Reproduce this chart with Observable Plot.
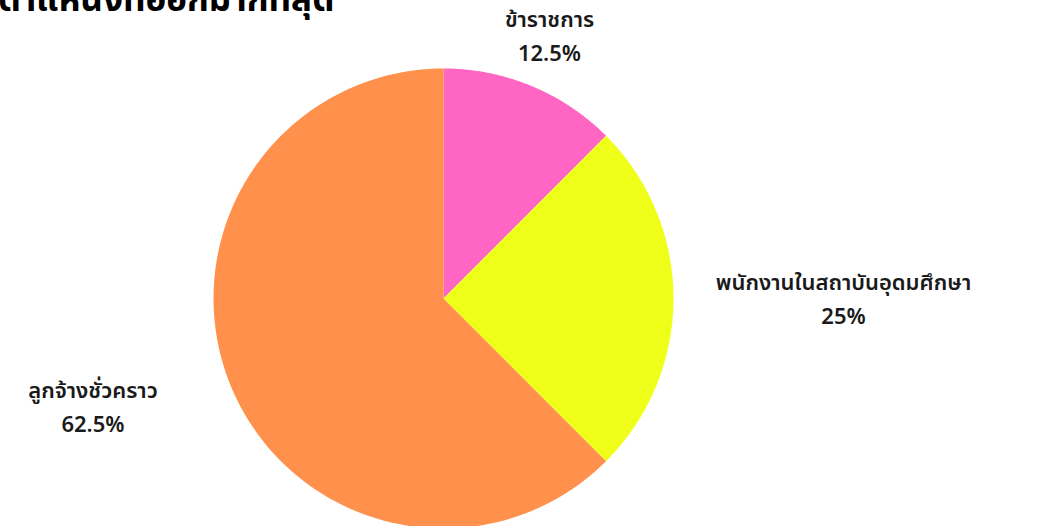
<!DOCTYPE html>
<html>
<head>
<meta charset="utf-8">
<script src="https://cdn.jsdelivr.net/npm/d3@7"></script>
<script src="https://cdn.jsdelivr.net/npm/@observablehq/plot@0.6"></script>
<style>
  html, body { margin: 0; padding: 0; background: #fff; overflow: hidden; }
  #wrap { position: relative; width: 1051px; height: 526px; overflow: hidden; }
  #title { position: absolute; left: -2px; top: -26px; font: 700 35px "Noto Sans Thai", "Noto Sans", sans-serif; color: #000; white-space: nowrap; margin: 0; }
  #chart { position: absolute; left: 0; top: 0; }
</style>
</head>
<body>
<div id="wrap">
  <div id="chart"></div>
  <div id="title">ตำแหน่งที่ออกมากที่สุด</div>
</div>
<script>
const categories = ["ข้าราชการ", "พนักงานในสถาบันอุดมศึกษา", "ลูกจ้างชั่วคราว"];
const values = [12.5, 25, 62.5];
const valueLabels = ["12.5%", "25%", "62.5%"];
const colors = ["#ff66c4", "#f0ff1a", "#ff914d"];

const W = 1051, H = 526;
const cx = 443, cy = 298, R = 230; // pixel layout of the pie

const arcs = d3.pie().sort(null).value(d => d)(values);
const points = [];
arcs.forEach((a, i) => {
  const cat = categories[i];
  points.push({cat, x: 0, y: 0});
  const n = 120;
  for (let k = 0; k <= n; k++) {
    const t = a.startAngle + (a.endAngle - a.startAngle) * k / n;
    points.push({cat, x: Math.sin(t), y: Math.cos(t)});
  }
  points.push({cat, x: 0, y: 0});
});

const labels = arcs.map((a, i) => {
  const m = (a.startAngle + a.endAngle) / 2;
  return {cat: categories[i], text: categories[i] + "\n" + valueLabels[i], x: Math.sin(m), y: Math.cos(m)};
});

const font = "'Noto Sans Thai', 'Noto Sans', sans-serif";
const offsets = [[18, -53], [170, -2], [-138, 18]];

const chart = Plot.plot({
  width: W,
  height: H,
  margin: 0,
  x: {domain: [-cx / R, (W - cx) / R], range: [0, W], axis: null},
  y: {domain: [-(H - cy) / R, cy / R], range: [H, 0], axis: null},
  color: {domain: categories, range: colors},
  style: {fontFamily: font, background: "#fff"},
  marks: [
    Plot.line(points, {x: "x", y: "y", z: "cat", fill: "cat", stroke: null, curve: "linear"}),
    ...labels.map((l, i) => Plot.text([l], {
      x: "x", y: "y", text: "text",
      dx: offsets[i][0], dy: offsets[i][1],
      fontSize: 22, fontWeight: 600, fill: "#1a1a1a",
      lineHeight: 1.55, textAnchor: "middle"
    }))
  ]
});
document.getElementById("chart").appendChild(chart);
</script>
</body>
</html>
